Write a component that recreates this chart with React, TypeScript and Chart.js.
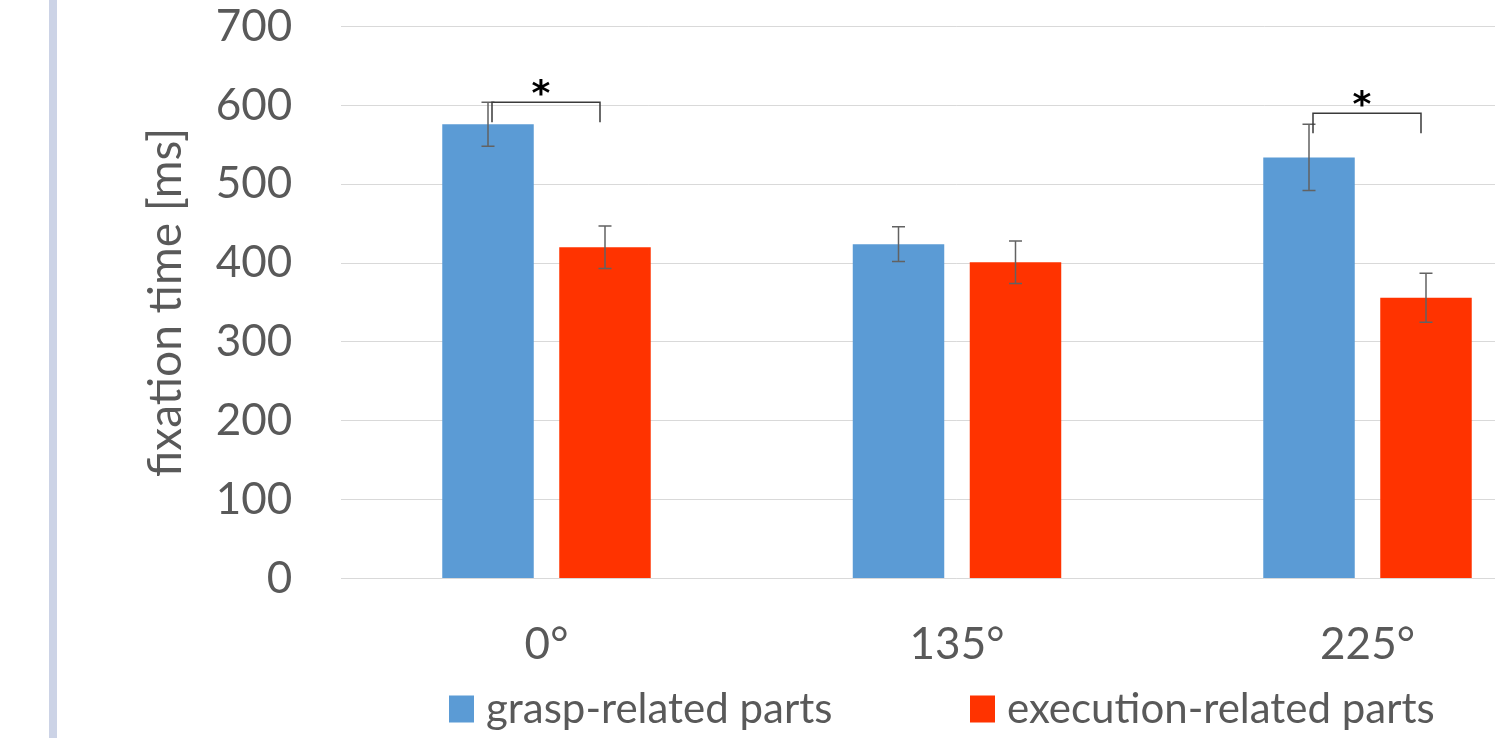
import React, { useEffect, useRef } from 'react';
import { Chart, registerables } from 'chart.js';

Chart.register(...registerables);

// ---- data ----
const categories = ['0°', '135°', '225°'];
const seriesNames = ['grasp-related parts', 'execution-related parts'];
const graspValues = [576, 424, 534];
const executionValues = [420, 401, 356];
const graspErrors = [28, 22, 42];
const executionErrors = [27, 27, 31];
const yMin = 0;
const yMax = 700;
const yStep = 100;
const yTitle = 'fixation time [ms]';
const sigCategoryIndex = [0, 2];
const sigBracketLevels = [604, 590];
const sigLabels = ['*', '*'];

// ---- styles ----
const graspColor = '#5B9BD5';
const executionColor = '#FF3300';
const textColor = '#595959';
const gridColor = '#D9D9D9';
const FONT = 'Lato';

const valuesBySeries = [graspValues, executionValues];
const errorsBySeries = [graspErrors, executionErrors];
const colorsBySeries = [graspColor, executionColor];
const legendItemOffsets = [-508, 13];

const errorBarPlugin = {
  id: 'errorBars',
  afterDatasetsDraw(chart: any) {
    const ctx = chart.ctx;
    const ys = chart.scales.y;
    ctx.save();
    ctx.strokeStyle = '#626262';
    ctx.lineWidth = 1.5;
    chart.data.datasets.forEach((_ds: any, di: number) => {
      const meta = chart.getDatasetMeta(di);
      meta.data.forEach((bar: any, i: number) => {
        const v = valuesBySeries[di][i];
        const e = errorsBySeries[di][i];
        const x = bar.x;
        const yt = ys.getPixelForValue(v + e);
        const yb = ys.getPixelForValue(v - e);
        const cap = 6.5;
        ctx.beginPath();
        ctx.moveTo(x, yt);
        ctx.lineTo(x, yb);
        ctx.moveTo(x - cap, yt);
        ctx.lineTo(x + cap, yt);
        ctx.moveTo(x - cap, yb);
        ctx.lineTo(x + cap, yb);
        ctx.stroke();
      });
    });
    ctx.restore();
  },
};

const significancePlugin = {
  id: 'significance',
  afterDatasetsDraw(chart: any) {
    const ctx = chart.ctx;
    const ys = chart.scales.y;
    const m0 = chart.getDatasetMeta(0);
    const m1 = chart.getDatasetMeta(1);
    ctx.save();
    sigCategoryIndex.forEach((ci, k) => {
      const xl = m0.data[ci].x + 4;
      const xr = m1.data[ci].x - 5;
      const yh = ys.getPixelForValue(sigBracketLevels[k]);
      const drop = 20;
      ctx.strokeStyle = '#3A3A3A';
      ctx.lineWidth = 1.5;
      ctx.beginPath();
      ctx.moveTo(xl, yh + drop);
      ctx.lineTo(xl, yh);
      ctx.lineTo(xr, yh);
      ctx.lineTo(xr, yh + drop);
      ctx.stroke();
      ctx.fillStyle = '#000000';
      ctx.font = 'bold 36px "DejaVu Sans"';
      ctx.textAlign = 'center';
      ctx.textBaseline = 'alphabetic';
      const m = ctx.measureText(sigLabels[k]);
      const cy = yh - 15;
      const by = cy + (m.actualBoundingBoxAscent - m.actualBoundingBoxDescent) / 2;
      ctx.fillText(sigLabels[k], (xl + xr) / 2 - 5, by);
    });
    ctx.restore();
  },
};

const legendPlugin = {
  id: 'customLegend',
  afterDraw(chart: any) {
    const ctx = chart.ctx;
    const area = chart.chartArea;
    const box = 25;
    const gap = 12;
    ctx.save();
    ctx.font = `42px ${FONT}`;
    const center = (area.left + area.right) / 2;
    const boxTop = area.bottom + 117;
    const baseline = area.bottom + 144;
    chart.data.datasets.forEach((ds: any, i: number) => {
      const x = center + legendItemOffsets[i];
      ctx.fillStyle = ds.backgroundColor;
      ctx.fillRect(x, boxTop, box, box + 2);
      ctx.fillStyle = textColor;
      ctx.textAlign = 'left';
      ctx.textBaseline = 'alphabetic';
      ctx.fillText(ds.label, x + box + gap, baseline);
    });
    ctx.restore();
  },
};

export default function App() {
  const canvasRef = useRef<HTMLCanvasElement | null>(null);

  useEffect(() => {
    if (!canvasRef.current) return;
    const chart = new Chart(canvasRef.current, {
      type: 'bar',
      data: {
        labels: categories,
        datasets: seriesNames.map((name, i) => ({
          label: name,
          data: valuesBySeries[i],
          backgroundColor: colorsBySeries[i],
          borderWidth: 0,
          categoryPercentage: 0.57,
          barPercentage: 0.782,
        })),
      },
      options: {
        responsive: false,
        animation: false,
        events: [],
        layout: { padding: { top: 26.5, bottom: 59.5, left: 0, right: 27.25 } },
        plugins: {
          legend: { display: false },
          tooltip: { enabled: false },
          title: { display: false },
        },
        scales: {
          x: {
            grid: { display: false, drawTicks: false },
            border: { display: false },
            ticks: {
              color: textColor,
              font: { family: FONT, size: 44 },
              padding: 40,
              maxRotation: 0,
            },
            afterFit: (s: any) => {
              s.height = 100;
            },
          },
          y: {
            min: yMin,
            max: yMax,
            grid: {
              color: gridColor,
              lineWidth: 1,
              drawTicks: true,
              tickLength: 49,
              tickColor: 'rgba(0,0,0,0)',
            },
            border: { display: false },
            ticks: {
              stepSize: yStep,
              color: textColor,
              font: { family: FONT, size: 44 },
              padding: 0,
            },
            title: {
              display: true,
              text: yTitle,
              color: textColor,
              font: { family: FONT, size: 46 },
              padding: { top: 139, bottom: 0 },
            },
            afterFit: (s: any) => {
              s.width = 341.25;
            },
          },
        },
      },
      plugins: [errorBarPlugin, significancePlugin, legendPlugin],
    });
    return () => chart.destroy();
  }, []);

  return (
    <div
      style={{
        position: 'fixed',
        left: 0,
        top: 0,
        width: 1495,
        height: 738,
        overflow: 'hidden',
        background: '#ffffff',
      }}
    >
      <div
        style={{
          position: 'absolute',
          left: 49,
          top: 0,
          width: 8,
          height: 738,
          background: '#CCD3E6',
        }}
      />
      <canvas
        ref={canvasRef}
        width={1600}
        height={738}
        style={{ position: 'absolute', left: 0, top: 0, display: 'block' }}
      />
    </div>
  );
}
